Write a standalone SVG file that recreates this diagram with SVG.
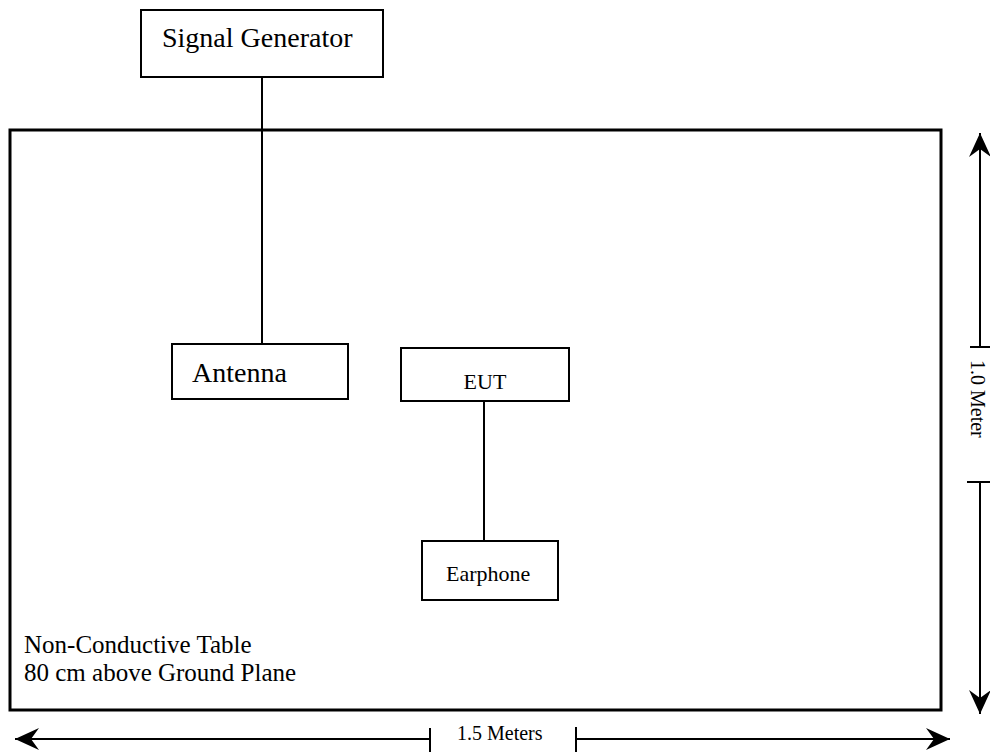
<svg xmlns="http://www.w3.org/2000/svg" width="990" height="753" viewBox="0 0 990 753">
  <style>
    .box { fill: #ffffff; stroke: #000000; stroke-width: 2; }
    .table { fill: none; stroke: #000000; stroke-width: 3; }
    .wire { stroke: #000000; stroke-width: 2; fill: none; }
    .dim { stroke: #000000; stroke-width: 2; fill: none; }
    .lbl { font-family: "Liberation Serif", "Times New Roman", serif; fill: #000000; }
  </style>
  <defs>
    <marker id="head" viewBox="0 0 24 22" refX="24" refY="11" markerWidth="24" markerHeight="22" markerUnits="userSpaceOnUse" orient="auto">
      <path d="M0,0 L24,11 L0,22 L8,11 Z" fill="#000000"/>
    </marker>
  </defs>

  <g id="table">
    <rect class="table" x="10" y="130" width="931" height="580"/>
    <text class="lbl" x="24" y="653" font-size="25">Non-Conductive Table</text>
    <text class="lbl" x="24" y="681" font-size="25">80 cm above Ground Plane</text>
  </g>

  <g id="connectors">
    <line class="wire" x1="262" y1="77" x2="262" y2="344"/>
    <line class="wire" x1="484" y1="401" x2="484" y2="541"/>
  </g>

  <g id="signal-generator">
    <rect class="box" x="141" y="10" width="242" height="67"/>
    <text class="lbl" x="162" y="47" font-size="28">Signal Generator</text>
  </g>

  <g id="antenna">
    <rect class="box" x="172" y="344" width="176" height="55"/>
    <text class="lbl" x="192" y="382" font-size="28">Antenna</text>
  </g>

  <g id="eut">
    <rect class="box" x="401" y="348" width="168" height="53"/>
    <text class="lbl" x="485" y="389" font-size="22" text-anchor="middle">EUT</text>
  </g>

  <g id="earphone">
    <rect class="box" x="422" y="541" width="136" height="59"/>
    <text class="lbl" x="446" y="581" font-size="22">Earphone</text>
  </g>

  <g id="dimensions">
    <line class="dim" x1="980" y1="347" x2="980" y2="133" marker-end="url(#head)"/>
    <line class="dim" x1="970" y1="347" x2="990" y2="347"/>
    <line class="dim" x1="967" y1="482" x2="990" y2="482"/>
    <line class="dim" x1="980" y1="482" x2="980" y2="714" marker-end="url(#head)"/>
    <text class="lbl" font-size="20" transform="translate(971,360) rotate(90)">1.0 Meter</text>

    <line class="dim" x1="430" y1="739" x2="15" y2="739" marker-end="url(#head)"/>
    <line class="dim" x1="430" y1="728" x2="430" y2="752"/>
    <line class="dim" x1="576" y1="727" x2="576" y2="752"/>
    <line class="dim" x1="576" y1="739" x2="950" y2="739" marker-end="url(#head)"/>
    <text class="lbl" x="457" y="740" font-size="20">1.5 Meters</text>
  </g>
</svg>
